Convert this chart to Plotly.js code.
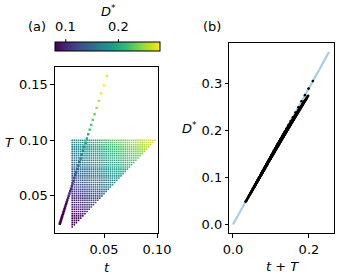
<!DOCTYPE html>
<html>
<head>
<meta charset="utf-8">
<script src="https://cdn.plot.ly/plotly-3.0.1.min.js"></script>
<style>html,body{margin:0;padding:0;background:#fff;}#chart{width:338px;height:280px;}</style>
</head>
<body>
<div id="chart"></div>
<script>
// ---- data ----
// grid levels of the (t, T) sweep (only T > t is present)
var tLevels = [0.020,0.022,0.024,0.026,0.028,0.030,0.032,0.034,0.036,0.038,0.040,0.042,0.044,0.046,0.048,0.050,0.052,0.054,0.056,0.058,0.060,0.062,0.064,0.066,0.068,0.070,0.072,0.074,0.076,0.078,0.080,0.082,0.084,0.086,0.088,0.090,0.092,0.094,0.096,0.098];
var TLevels = [0.022,0.024,0.026,0.028,0.030,0.032,0.034,0.036,0.038,0.040,0.042,0.044,0.046,0.048,0.050,0.052,0.054,0.056,0.058,0.060,0.062,0.064,0.066,0.068,0.070,0.072,0.074,0.076,0.078,0.080,0.082,0.084,0.086,0.088,0.090,0.092,0.094,0.096,0.098,0.100];
// slope of D* against t+T and the droop for large t
var dSlope = 1.455;
var dDroop = 1.4;

// separate sweep along a line (T ~ 3 t)
var lineT = [0.1577,0.1493,0.1421,0.1354,0.1291,0.1234,0.1183,0.1138,0.1095,0.1054,0.1015,0.0977,0.0940,0.0904,0.0869,0.0836,0.0804,0.0773,0.0743,0.0714,0.0687,0.0660,0.0635,0.0610,0.0587,0.0564,0.0542,0.0521,0.0501,0.0482,0.0463,0.0445,0.0428,0.0412,0.0396,0.0381,0.0366,0.0352,0.0338,0.0325,0.0313,0.0301,0.0289,0.0278,0.0267,0.0257,0.0250];
var linet = [0.0526,0.0498,0.0474,0.0451,0.0430,0.0411,0.0394,0.0379,0.0365,0.0351,0.0338,0.0326,0.0313,0.0301,0.0290,0.0279,0.0268,0.0258,0.0248,0.0238,0.0229,0.0220,0.0212,0.0203,0.0196,0.0188,0.0181,0.0174,0.0167,0.0161,0.0154,0.0148,0.0143,0.0137,0.0132,0.0127,0.0122,0.0117,0.0113,0.0108,0.0104,0.0100,0.0096,0.0093,0.0089,0.0086,0.0083];
var lineD = [0.306,0.290,0.276,0.263,0.250,0.239,0.229,0.221,0.212,0.204,0.197,0.190,0.182,0.175,0.169,0.162,0.156,0.150,0.144,0.139,0.133,0.128,0.123,0.118,0.114,0.109,0.105,0.101,0.097,0.094,0.090,0.086,0.083,0.080,0.077,0.074,0.071,0.068,0.066,0.063,0.061,0.058,0.056,0.054,0.052,0.050,0.049];

// reference straight line in panel (b)
var refX = [0.0, 0.253];
var refY = [0.0, 0.368];

var cRange = [0.079, 0.279];
var cTicks = [0.1, 0.2];
var cTickText = ['0.1', '0.2'];

// ---- build grid points ----
var gt = [], gT = [], gD = [], gS = [];
for (var i = 0; i < TLevels.length; i++) {
  for (var j = 0; j < tLevels.length; j++) {
    var t = tLevels[j], T = TLevels[i];
    if (T > t + 1e-9) {
      gt.push(t); gT.push(T);
      var d = dSlope * (t + T) - dDroop * t * t;
      gD.push(d); gS.push(t + T);
    }
  }
}
var lS = linet.map(function (v, k) { return v + lineT[k]; });

var W = 338, H = 280;
var F = 'DejaVu Sans';
var tf = {family: F, size: 13, color: '#000'};

// colorbar geometry (paper px)
var cbL = 54.7, cbR = 160, cbTop = 42.7, cbBot = 52;

var traces = [
  {type: 'scatter', mode: 'markers', x: gt, y: gT, xaxis: 'x', yaxis: 'y',
   marker: {symbol: 'square', size: 1.6, color: gD, colorscale: 'Viridis', cmin: cRange[0], cmax: cRange[1],
     line: {width: 0},
     colorbar: {orientation: 'h', x: (cbL + cbR) / 2 / W, xanchor: 'center', len: (cbR - cbL) / W, lenmode: 'fraction',
       thickness: cbBot - cbTop, thicknessmode: 'pixels', y: 1 - cbBot / H, yanchor: 'bottom', ypad: 0, xpad: 0,
       outlinewidth: 1, outlinecolor: '#000', tickvals: cTicks, ticks: '', showticklabels: false}},
   showlegend: false, hoverinfo: 'skip'},
  {type: 'scatter', mode: 'markers', x: linet, y: lineT, xaxis: 'x', yaxis: 'y',
   marker: {symbol: 'square', size: 2.4, color: lineD, colorscale: 'Viridis', cmin: cRange[0], cmax: cRange[1], line: {width: 0}},
   showlegend: false, hoverinfo: 'skip'},
  {type: 'scatter', mode: 'lines', x: refX, y: refY, xaxis: 'x2', yaxis: 'y2',
   line: {color: '#a9cce3', width: 2.2}, showlegend: false, hoverinfo: 'skip'},
  {type: 'scatter', mode: 'markers', x: gS.concat(lS), y: gD.concat(lineD), xaxis: 'x2', yaxis: 'y2',
   marker: {size: 2.6, color: '#000', line: {width: 0}}, showlegend: false, hoverinfo: 'skip'}
];

var ax = {showline: true, mirror: true, linecolor: '#000', linewidth: 1, ticks: 'outside', ticklen: 3.5,
  tickwidth: 1, tickcolor: '#000', showgrid: false, zeroline: false, tickfont: tf};
function A(o) { var r = {}; for (var k in ax) r[k] = ax[k]; for (var k2 in o) r[k2] = o[k2]; return r; }

function P(text, x, y) {
  return {text: text, x: x / W, y: 1 - y / H, xref: 'paper', yref: 'paper', showarrow: false, font: tf, xanchor: 'center', yanchor: 'middle'};
}

var anns = [
  P('(a)', 37, 27), P('(b)', 212, 27),
  P('<i>D</i><sup>*</sup>', 108, 11),
  P('<i>T</i>', 9, 142), P('<i>t</i>', 107, 267),
  P('<i>D</i><sup>*</sup>', 189, 128),
  P('<i>t</i> + <i>T</i>', 282, 266)
];
var shapes = [];
cTicks.forEach(function (v, k) {
  var px = cbL + (v - cRange[0]) / (cRange[1] - cRange[0]) * (cbR - cbL);
  anns.push(P(cTickText[k], px, 27));
  shapes.push({type: 'line', xref: 'paper', yref: 'paper', x0: px / W, x1: px / W, y0: 1 - cbTop / H, y1: 1 - (cbTop - 3.5) / H,
    line: {color: '#000', width: 1}});
});

var layout = {
  width: W, height: H, margin: {l: 0, r: 0, t: 0, b: 0},
  paper_bgcolor: '#fff', plot_bgcolor: '#fff', font: {family: F, size: 13, color: '#000'},
  xaxis: A({domain: [0.1627, 0.4675], range: [0.00377, 0.1009], tickvals: [0.05, 0.10], ticktext: ['0.05', '0.10'], anchor: 'y'}),
  yaxis: A({domain: [0.1661, 0.7607], range: [0.0162, 0.1658], tickvals: [0.05, 0.10, 0.15], ticktext: ['0.05', '0.10', '0.15'], anchor: 'x'}),
  xaxis2: A({domain: [0.6784, 0.9882], range: [-0.0097, 0.266], tickvals: [0.0, 0.2], ticktext: ['0.0', '0.2'], anchor: 'y2'}),
  yaxis2: A({domain: [0.1661, 0.8454], range: [-0.019, 0.3866], tickvals: [0.0, 0.1, 0.2, 0.3], ticktext: ['0.0', '0.1', '0.2', '0.3'], anchor: 'x2'}),
  annotations: anns,
  shapes: shapes
};

Plotly.newPlot('chart', traces, layout, {staticPlot: true, displayModeBar: false});
</script>
</body>
</html>
